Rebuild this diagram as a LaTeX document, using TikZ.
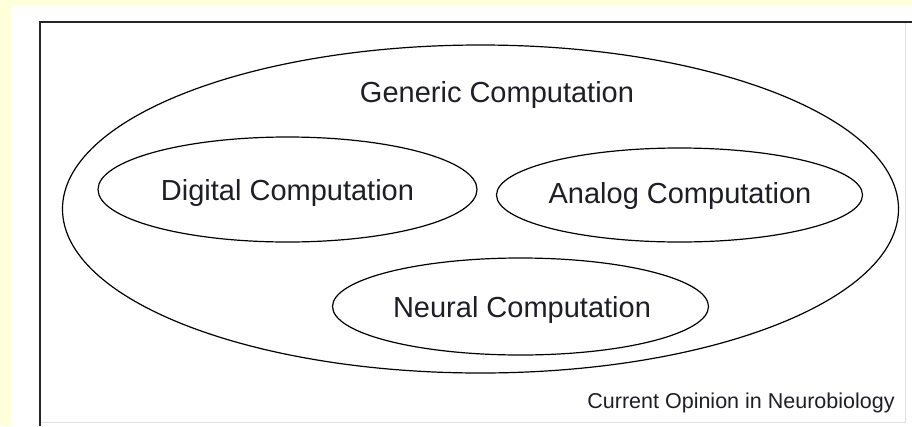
\documentclass[tikz,border=0pt]{standalone}
\usepackage{fontspec}
\setmainfont{Liberation Sans}
\usetikzlibrary{shapes.geometric}
\definecolor{bgyellow}{RGB}{255,255,220}
\definecolor{inkc}{RGB}{30,30,40}
\tikzset{
  ell/.style={ellipse, draw=black, line width=1.2pt, inner sep=0pt},
  lbl/.style={font=\fontsize{29}{34}\selectfont, text=inkc, anchor=base, inner sep=0pt},
  small/.style={font=\fontsize{21.5}{26}\selectfont, text=inkc, anchor=base, inner sep=0pt},
}
\begin{document}
\begin{tikzpicture}[x=1pt,y=-1pt]
\useasboundingbox (0,0) rectangle (912,426);
\fill[bgyellow] (0,0) rectangle (912,426);
\fill[white] (11,6) rectangle (912,426);
% faint outer lines
\draw[gray!25, line width=1pt] (905,22) -- (905,422) -- (40,422);
% frame
\draw[black!85, line width=2pt] (40,426) -- (40,22) -- (912,22);
% outer ellipse
\node[ell, minimum width=836pt, minimum height=328pt] (generic) at (480.5,209) {};
\node[ell, minimum width=379pt, minimum height=105pt] (digital) at (287.5,189.5) {};
\node[ell, minimum width=366pt, minimum height=94pt] (analog) at (679.5,195) {};
\node[ell, minimum width=376pt, minimum height=97pt] (neural) at (520.5,306.5) {};
\node[lbl] (tgeneric) at (497,102) {Generic Computation};
\node[lbl] (tdigital) at (287.5,200) {Digital Computation};
\node[lbl] (tanalog) at (680,203) {Analog Computation};
\node[lbl] (tneural) at (522,317) {Neural Computation};
\node[small] (credit) at (741,408) {Current Opinion in Neurobiology};
\end{tikzpicture}
\end{document}
